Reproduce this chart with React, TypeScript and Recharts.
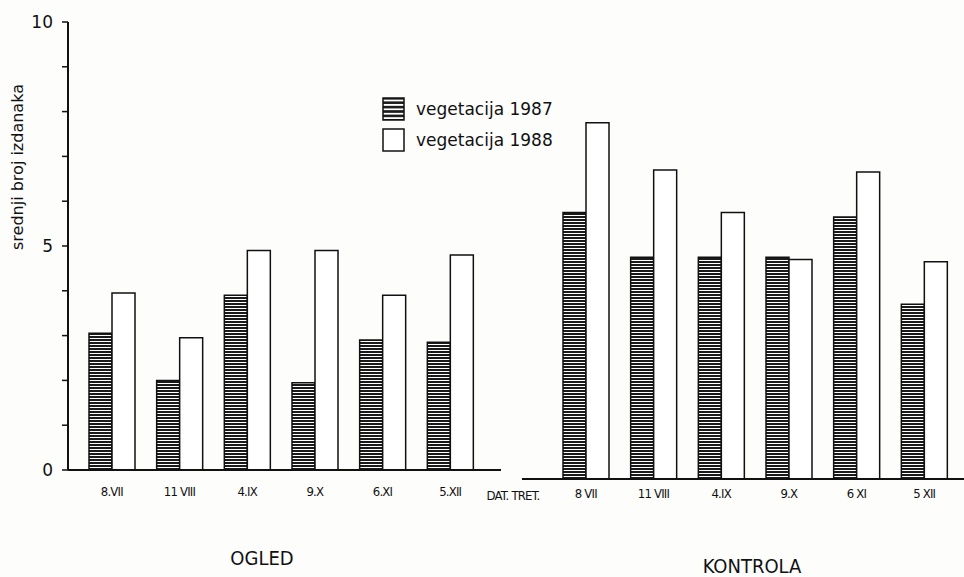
import React from "react";
import { BarChart, Bar, XAxis, YAxis } from "recharts";

// OGLED (left) and KONTROLA (right) groups, dates of treatment
const ogledDates = ["8.VII", "11 VIII", "4.IX", "9.X", "6.XI", "5.XII"];
const ogled1987 = [3.05, 2.0, 3.9, 1.95, 2.9, 2.85];
const ogled1988 = [3.95, 2.95, 4.9, 4.9, 3.9, 4.8];

const kontrolaDates = ["8 VII", "11 VIII", "4.IX", "9.X", "6 XI", "5 XII"];
const kontrola1987 = [5.95, 4.95, 4.95, 4.95, 5.85, 3.9];
const kontrola1988 = [7.95, 6.9, 5.95, 4.9, 6.85, 4.85];

const yTicks = [0, 1, 2, 3, 4, 5, 6, 7, 8, 9, 10];
const yLabels = [0, 5, 10];

const ogledData = ogledDates.map((d, i) => ({ date: d, v1987: ogled1987[i], v1988: ogled1988[i] }));
const kontrolaData = kontrolaDates.map((d, i) => ({ date: d, v1987: kontrola1987[i], v1988: kontrola1988[i] }));

const FONT = "'DejaVu Sans', sans-serif";
const COND = "'DejaVu Sans Condensed', 'DejaVu Sans', sans-serif";

const Hatch = ({ id }: { id: string }) => (
  <defs>
    <pattern id={id} width="4" height="3" patternUnits="userSpaceOnUse">
      <rect width="4" height="3" fill="#fff" />
      <rect width="4" height="2" fill="#1a1a1a" />
    </pattern>
  </defs>
);

const tickStyle = { fill: "#111", fontSize: 13, fontFamily: COND, letterSpacing: -0.8 };

const LegendBox = () => (
  <div style={{ position: "absolute", left: 382, top: 93, fontFamily: FONT, fontSize: 17, color: "#111" }}>
    {[
      { label: "vegetacija 1987", hatch: true },
      { label: "vegetacija 1988", hatch: false },
    ].map((item) => (
      <div key={item.label} style={{ display: "flex", alignItems: "center", height: 31 }}>
        <svg width={24} height={24} style={{ marginRight: 10 }}>
          <defs>
            <pattern id="legHatch" width="4" height="4.4" patternUnits="userSpaceOnUse">
              <rect width="4" height="4.4" fill="#fff" />
              <rect width="4" height="2.6" fill="#1a1a1a" />
            </pattern>
          </defs>
          <rect x={1} y={1} width={21} height={22} fill={item.hatch ? "url(#legHatch)" : "#fff"} stroke="#111" strokeWidth={1.5} />
        </svg>
        <span>{item.label}</span>
      </div>
    ))}
  </div>
);

export default function App() {
  return (
    <div style={{ position: "fixed", left: 0, top: 0, width: 964, height: 577, background: "#fdfdfc", overflow: "hidden" }}>
      <div style={{ position: "absolute", left: 0, top: 0 }}>
        <BarChart width={510} height={577} data={ogledData} margin={{ top: 22, right: 9, left: 0, bottom: 77 }} barGap={0}>
          <Hatch id="hatchL" />
          <XAxis
            dataKey="date"
            padding={{ left: 10, right: 17 }}
            axisLine={{ stroke: "#111", strokeWidth: 2 }}
            tickLine={false}
            tickSize={15}
            height={30}
            interval={0}
            tick={tickStyle}
          />
          <YAxis
            domain={[0, 10]}
            ticks={yTicks}
            width={68}
            interval={0}
            axisLine={{ stroke: "#111", strokeWidth: 2 }}
            tickLine={{ stroke: "#111", strokeWidth: 1.5 }}
            tickSize={6}
            tickMargin={9}
            tickFormatter={(v: number) => (yLabels.includes(v) ? String(v) : "")}
            tick={{ fill: "#111", fontSize: 17, fontFamily: FONT }}
          />
          <Bar dataKey="v1987" barSize={23} fill="url(#hatchL)" stroke="#111" strokeWidth={1.5} isAnimationActive={false} />
          <Bar dataKey="v1988" barSize={23} fill="#fff" stroke="#111" strokeWidth={1.5} isAnimationActive={false} />
        </BarChart>
      </div>
      <div style={{ position: "absolute", left: 0, top: 0 }}>
        <BarChart width={964} height={577} data={kontrolaData} margin={{ top: 31, right: 0, left: 522, bottom: 68 }} barGap={0}>
          <Hatch id="hatchR" />
          <XAxis
            dataKey="date"
            padding={{ left: 30, right: 6 }}
            axisLine={{ stroke: "#111", strokeWidth: 2 }}
            tickLine={false}
            tickSize={8}
            height={30}
            interval={0}
            tick={tickStyle}
          />
          <YAxis domain={[0, 10]} hide width={0} />
          <Bar dataKey="v1987" barSize={23} fill="url(#hatchR)" stroke="#111" strokeWidth={1.5} isAnimationActive={false} />
          <Bar dataKey="v1988" barSize={23} fill="#fff" stroke="#111" strokeWidth={1.5} isAnimationActive={false} />
        </BarChart>
      </div>
      <LegendBox />
      <div style={{ position: "absolute", left: 513, top: 495, transform: "translate(-50%, -50%)", whiteSpace: "nowrap", fontFamily: COND, fontSize: 13, letterSpacing: -0.8, color: "#111" }}>
        DAT. TRET.
      </div>
      <div
        style={{
          position: "absolute",
          left: 17,
          top: 167,
          transform: "translate(-50%, -50%) rotate(-90deg)",
          whiteSpace: "nowrap",
          fontFamily: FONT,
          fontSize: 16,
          color: "#111",
        }}
      >
        srednji broj izdanaka
      </div>
      <div style={{ position: "absolute", left: 262, top: 558, transform: "translate(-50%, -50%)", fontFamily: COND, fontSize: 20, color: "#111" }}>
        OGLED
      </div>
      <div style={{ position: "absolute", left: 752, top: 566, transform: "translate(-50%, -50%)", fontFamily: COND, fontSize: 20, color: "#111" }}>
        KONTROLA
      </div>
    </div>
  );
}
